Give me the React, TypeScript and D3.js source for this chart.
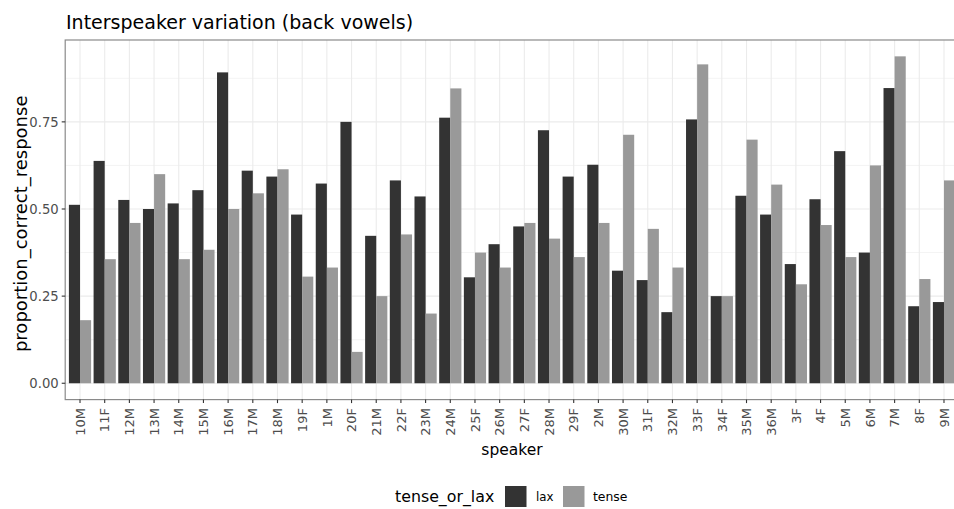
import React from "react";
import * as d3 from "d3";

const speakers = ["10M","11F","12M","13M","14M","15M","16M","17M","18M","19F","1M","20F","21M","22F","23M","24M","25F","26M","27F","28M","29F","2M","30M","31F","32M","33F","34F","35M","36M","3F","4F","5M","6M","7M","8F","9M"];
const laxValues = [0.512,0.638,0.526,0.5,0.516,0.554,0.892,0.61,0.593,0.484,0.573,0.75,0.423,0.582,0.536,0.762,0.304,0.399,0.45,0.726,0.593,0.627,0.323,0.296,0.204,0.757,0.25,0.538,0.484,0.342,0.528,0.666,0.375,0.847,0.221,0.233];
const tenseValues = [0.181,0.356,0.46,0.6,0.356,0.383,0.5,0.545,0.614,0.306,0.332,0.09,0.25,0.427,0.2,0.846,0.375,0.332,0.46,0.415,0.362,0.46,0.713,0.443,0.332,0.915,0.25,0.699,0.57,0.284,0.454,0.362,0.625,0.938,0.299,0.582];
const groups = ["lax","tense"];
const yTicks = [0, 0.25, 0.5, 0.75];
const yMinor = [0.125, 0.375, 0.625, 0.875];

const W = 954, H = 509;
const FONT = "DejaVu Sans, sans-serif";
const colors: Record<string, string> = { lax: "#333333", tense: "#999999" };

export default function App() {
  const left = 65.2, right = 958.8, top = 40, bottom = 399.6;
  const maxV = d3.max([...laxValues, ...tenseValues]) as number;
  const y = d3.scaleLinear().domain([-0.05 * maxV, 1.05 * maxV]).range([bottom, top]);
  const x = d3.scaleBand().domain(speakers).range([left, right]).paddingInner(0.1).paddingOuter(0.15);
  const xs = d3.scaleBand().domain(groups).range([0, x.bandwidth()]).padding(0);
  const center = (s: string) => (x(s) as number) + x.bandwidth() / 2;
  const rows = speakers.map((s, i) => ({ s, lax: laxValues[i], tense: tenseValues[i] }));
  const grid = "#EBEBEB";
  return (
    <svg width={W} height={H} style={{ position: "absolute", left: 0, top: 0, background: "#fff" }} fontFamily={FONT}>
      <rect x={0} y={0} width={W} height={H} fill="#fff" />
      <text x={66} y={28.5} fontSize={19} fill="#000">Interspeaker variation (back vowels)</text>
      <g>
        {yMinor.map((v) => (
          <line key={"m" + v} x1={left} x2={right} y1={y(v)} y2={y(v)} stroke={grid} strokeWidth={0.6} />
        ))}
        {yTicks.map((v) => (
          <line key={"g" + v} x1={left} x2={right} y1={y(v)} y2={y(v)} stroke={grid} strokeWidth={1.1} />
        ))}
        {speakers.map((s) => (
          <line key={"v" + s} x1={center(s)} x2={center(s)} y1={top} y2={bottom} stroke={grid} strokeWidth={1.1} />
        ))}
      </g>
      <g>
        {rows.map((r) =>
          groups.map((g) => {
            const v = (r as any)[g] as number;
            return (
              <rect key={r.s + g} x={(x(r.s) as number) + (xs(g) as number)} width={xs.bandwidth()} y={y(v)} height={y(0) - y(v)} fill={colors[g]} />
            );
          })
        )}
      </g>
      <rect x={left} y={top} width={right - left} height={bottom - top} fill="none" stroke="#8a8a8a" strokeWidth={1.2} />
      <g>
        {yTicks.map((v) => (
          <g key={"t" + v}>
            <line x1={left - 3.5} x2={left} y1={y(v)} y2={y(v)} stroke="#333" strokeWidth={1.1} />
            <text x={left - 6.5} y={y(v)} dy="0.36em" textAnchor="end" fontSize={13.2} fill="#4D4D4D">{d3.format(".2f")(v)}</text>
          </g>
        ))}
        {speakers.map((s) => (
          <g key={"xt" + s}>
            <line x1={center(s)} x2={center(s)} y1={bottom} y2={bottom + 3.5} stroke="#333" strokeWidth={1.1} />
            <text transform={`translate(${center(s)},${bottom + 8.5}) rotate(-90)`} textAnchor="end" dy="0.36em" fontSize={13} fill="#4D4D4D">{s}</text>
          </g>
        ))}
      </g>
      <text x={(left + right) / 2} y={455} textAnchor="middle" fontSize={15.5} fill="#000">speaker</text>
      <text transform={`translate(26.5,${(top + bottom) / 2 + 4}) rotate(-90)`} textAnchor="middle" fontSize={18} fill="#000">proportion_correct_response</text>
      <g>
        <text x={395} y={502} fontSize={15.8} fill="#000">tense_or_lax</text>
        <rect x={505} y={486} width={21.5} height={21} fill={colors.lax} />
        <text x={536} y={501} fontSize={11.8} fill="#000">lax</text>
        <rect x={563} y={486} width={21.5} height={21} fill={colors.tense} />
        <text x={593} y={501} fontSize={12.4} fill="#000">tense</text>
      </g>
    </svg>
  );
}
